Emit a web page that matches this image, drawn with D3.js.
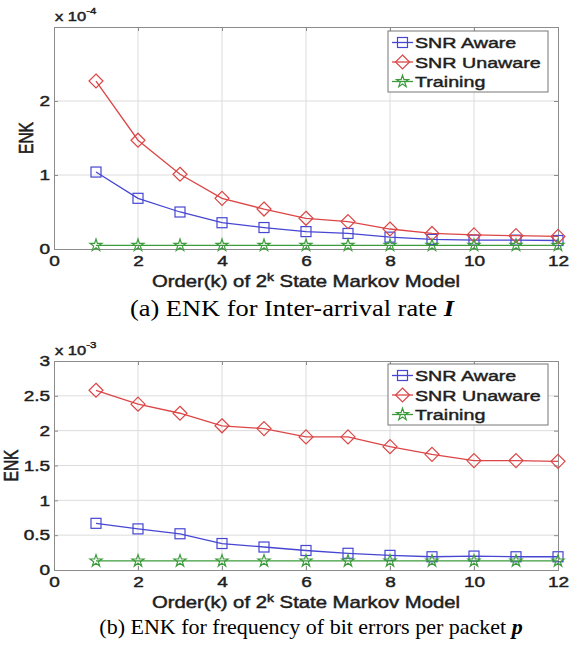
<!DOCTYPE html>
<html>
<head>
<meta charset="utf-8">
<script src="https://cdn.jsdelivr.net/npm/d3@7"></script>
<style>
body { margin: 0; background: #fff; }
svg { display: block; }
</style>
</head>
<body>
<div class="frame"></div>
<script>
// data
var orders = [1, 2, 3, 4, 5, 6, 7, 8, 9, 10, 11, 12];
var x_ticks = [0, 2, 4, 6, 8, 10, 12];

// (a) inter-arrival rate, values in units of 1e-4
var aware_I = [1.04, 0.685, 0.50, 0.355, 0.29, 0.235, 0.21, 0.16, 0.13, 0.12, 0.12, 0.115];
var unaware_I = [2.27, 1.47, 1.01, 0.685, 0.54, 0.415, 0.37, 0.27, 0.21, 0.19, 0.18, 0.17];
var training_I = [0.05, 0.05, 0.05, 0.05, 0.05, 0.05, 0.05, 0.05, 0.05, 0.05, 0.05, 0.05];
var y_ticks_I = [0, 1, 2];
var y_labels_I = ["0", "1", "2"];

// (b) bit errors per packet, values in units of 1e-3
var aware_P = [0.67, 0.59, 0.52, 0.38, 0.33, 0.28, 0.24, 0.21, 0.19, 0.20, 0.19, 0.19];
var unaware_P = [2.58, 2.38, 2.25, 2.07, 2.03, 1.91, 1.91, 1.77, 1.66, 1.57, 1.57, 1.56];
var training_P = [0.13, 0.13, 0.13, 0.13, 0.13, 0.13, 0.13, 0.13, 0.13, 0.13, 0.13, 0.13];
var y_ticks_P = [0, 0.5, 1, 1.5, 2, 2.5, 3];
var y_labels_P = ["0", "0.5", "1", "1.5", "2", "2.5", "3"];

var series_names = ["SNR Aware", "SNR Unaware", "Training"];
var series_colors = ["#4646d2", "#dc4646", "#3c9c3c"];
var series_marks = ["square", "diamond", "star"];

var width = 585, height = 656;
var sans = "'Liberation Sans', Arial, sans-serif";
var serif = "'Liberation Serif', 'Times New Roman', serif";
var sx = 1.27; // the picture's sans text is stretched sideways

var svg = d3.select(".frame").append("svg")
    .attr("width", width)
    .attr("height", height)
    .attr("viewBox", [0, 0, width, height]);

svg.append("rect").attr("width", width).attr("height", height).attr("fill", "#fff");

function sansText(sel, size) {
    sel.attr("font-family", sans)
        .attr("font-size", size)
        .attr("fill", "#1e1e1e")
        .attr("stroke", "#1e1e1e")
        .attr("stroke-width", 0.45);
}

function marker(g, type, color) {
    if (type == "square") {
        g.append("rect")
            .attr("x", -5).attr("y", -5).attr("width", 10).attr("height", 10)
            .attr("fill", "none").attr("stroke", color).attr("stroke-width", 1.2);
    } else if (type == "diamond") {
        g.append("path")
            .attr("d", "M0,-7L7,0L0,7L-7,0Z")
            .attr("fill", "none").attr("stroke", color).attr("stroke-width", 1.2);
    } else {
        g.append("path")
            .attr("d", d3.symbol().type(d3.symbolStar).size(45)())
            .attr("fill", "none").attr("stroke", color).attr("stroke-width", 1.2);
    }
}

function drawPanel(opt) {
    var x = d3.scaleLinear().domain([0, 12]).range([54, 558]);
    var y = d3.scaleLinear().domain([0, 3]).range(opt.yRange);

    var g = svg.append("g");

    // grid
    g.append("g").selectAll("line")
        .data(x_ticks.slice(1, -1))
        .enter().append("line")
        .attr("x1", d => x(d)).attr("x2", d => x(d))
        .attr("y1", y(0)).attr("y2", y(3))
        .attr("stroke", "#dcdcdc").attr("stroke-width", 1);
    g.append("g").selectAll("line")
        .data(opt.yTicks.filter(d => d > 0 && d < 3))
        .enter().append("line")
        .attr("x1", x(0)).attr("x2", x(12))
        .attr("y1", d => y(d)).attr("y2", d => y(d))
        .attr("stroke", "#dcdcdc").attr("stroke-width", 1);

    // axes
    var xa = g.append("g")
        .attr("transform", "translate(0," + y(0) + ")")
        .call(d3.axisBottom(x).tickValues(x_ticks).tickSize(-4).tickPadding(6).tickFormat(d3.format("d")));
    var xt = g.append("g")
        .attr("transform", "translate(0," + y(3) + ")")
        .call(d3.axisTop(x).tickValues(x_ticks).tickSize(-4).tickFormat(""));
    var ya = g.append("g")
        .attr("transform", "translate(" + x(0) + ",0)")
        .call(d3.axisLeft(y).tickValues(opt.yTicks).tickSize(-4).tickPadding(3)
            .tickFormat((d, i) => opt.yLabels[i]));
    var yr = g.append("g")
        .attr("transform", "translate(" + x(12) + ",0)")
        .call(d3.axisRight(y).tickValues(opt.yTicks).tickSize(-4).tickFormat(""));

    [xa, xt, ya, yr].forEach(function (a) {
        a.select(".domain").attr("stroke", "#8c8c8c");
        a.selectAll(".tick line").attr("stroke", "#8c8c8c");
        a.selectAll("text").call(sansText, 15)
            .attr("transform", "scale(" + sx + ",1)");
    });

    // multiplier
    var mult = g.append("text")
        .attr("transform", "translate(" + (x(0) + 1) + "," + (y(3) - 6) + ") scale(" + sx + ",1)")
        .call(sansText, 13);
    mult.append("tspan").text("x 10");
    mult.append("tspan").attr("dy", -7).attr("font-size", 9).text(opt.exponent);

    // axis titles
    g.append("text")
        .attr("transform", "translate(" + opt.yTitleX + "," + (y(1.5)) + ") scale(" + sx + ",1) rotate(-90)")
        .attr("text-anchor", "middle")
        .call(sansText, 15.5)
        .text("ENK");

    var xl = g.append("text")
        .attr("transform", "translate(306," + (y(0) + 38) + ") scale(" + sx + ",1)")
        .attr("text-anchor", "middle")
        .call(sansText, 16);
    xl.append("tspan").text("Order(k) of 2");
    xl.append("tspan").attr("dy", -6).attr("font-size", 11).text("k");
    xl.append("tspan").attr("dy", 6).text(" State Markov Model");

    // series
    var line = d3.line().x((d, i) => x(orders[i])).y(d => y(d));
    opt.series.forEach(function (vals, s) {
        g.append("path")
            .datum(vals)
            .attr("d", line)
            .attr("fill", "none")
            .attr("stroke", series_colors[s])
            .attr("stroke-width", 1.3);
        vals.forEach(function (v, i) {
            var m = g.append("g").attr("transform", "translate(" + x(orders[i]) + "," + y(v) + ")");
            marker(m, series_marks[s], series_colors[s]);
        });
    });

    // legend
    var lg = g.append("g").attr("transform", "translate(388," + opt.legendTop + ")");
    lg.append("rect")
        .attr("width", 160).attr("height", 61)
        .attr("fill", "#fff").attr("stroke", "#777").attr("stroke-width", 1);
    series_names.forEach(function (name, s) {
        var row = lg.append("g").attr("transform", "translate(0," + (11.5 + s * 19.5) + ")");
        row.append("line")
            .attr("x1", 4).attr("x2", 25)
            .attr("stroke", series_colors[s]).attr("stroke-width", 1.3);
        var m = row.append("g").attr("transform", "translate(14.5,0)");
        marker(m, series_marks[s], series_colors[s]);
        row.append("text")
            .attr("transform", "translate(27,0) scale(" + sx + ",1)")
            .attr("dy", "0.36em")
            .call(sansText, 15.5)
            .text(name);
    });

    // caption
    var cap = g.append("text")
        .attr("transform", "translate(" + opt.captionX + "," + opt.captionY + ") scale(" + opt.captionScale + ",1)")
        .attr("text-anchor", "middle")
        .attr("font-family", serif).attr("font-size", opt.captionSize).attr("fill", "#000");
    cap.append("tspan").text(opt.caption);
    cap.append("tspan").attr("font-weight", "bold").attr("font-style", "italic").text(opt.captionVar);
}

drawPanel({
    yRange: [249, 27],
    yTicks: y_ticks_I,
    yLabels: y_labels_I,
    exponent: "-4",
    series: [aware_I, unaware_I, training_I],
    legendTop: 31,
    yTitleX: 33,
    caption: "(a) ENK for Inter-arrival rate ",
    captionVar: "I",
    captionX: 292,
    captionY: 316,
    captionSize: 24,
    captionScale: 1.1
});

drawPanel({
    yRange: [570, 361],
    yTicks: y_ticks_P,
    yLabels: y_labels_P,
    exponent: "-3",
    series: [aware_P, unaware_P, training_P],
    legendTop: 364,
    yTitleX: 18,
    caption: "(b) ENK for frequency of bit errors per packet ",
    captionVar: "p",
    captionX: 311,
    captionY: 634,
    captionSize: 22,
    captionScale: 1.0
});
</script>
</body>
</html>
